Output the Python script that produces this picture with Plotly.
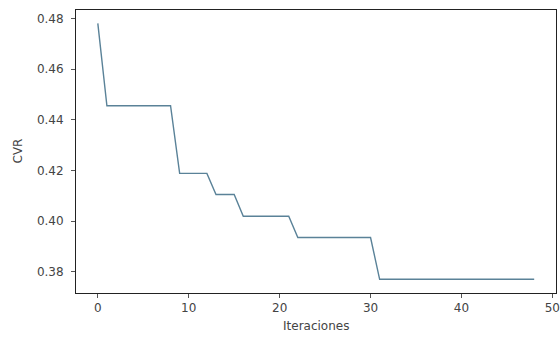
import plotly.graph_objects as go

iteraciones = list(range(0, 49))
# step values
step_starts = [0, 1, 9, 13, 16, 22, 31]
step_values = [0.4780, 0.4455, 0.4188, 0.4105, 0.4019, 0.3935, 0.3770]
cvr = []
for it in iteraciones:
    v = step_values[0]
    for s, val in zip(step_starts, step_values):
        if it >= s:
            v = val
    cvr.append(v)

x_ticks = [0, 10, 20, 30, 40, 50]
y_ticks = [0.38, 0.40, 0.42, 0.44, 0.46, 0.48]

fig = go.Figure()
fig.add_trace(go.Scatter(x=iteraciones, y=cvr, mode="lines",
                         line=dict(color="#5a8298", width=1.4)))

font = dict(family="DejaVu Sans", size=12, color="#444444")
fig.update_layout(
    width=560, height=338,
    margin=dict(l=76, r=4, t=10, b=45, autoexpand=False),
    paper_bgcolor="white", plot_bgcolor="white",
    showlegend=False, font=font,
)
fig.update_xaxes(range=[-2.4, 50.4], tickvals=x_ticks,
                 ticktext=[str(v) for v in x_ticks], automargin=False,
                 ticklabeloverflow="allow",
                 showgrid=False, zeroline=False, showline=True, mirror=True,
                 linecolor="#222", linewidth=1, ticks="outside", ticklen=4,
                 tickcolor="#555")
fig.update_yaxes(range=[0.3716, 0.4833], tickvals=y_ticks,
                 ticktext=[f"{v:.2f}" for v in y_ticks], automargin=False,
                 ticklabeloverflow="allow", ticklabelstandoff=5,
                 showgrid=False, zeroline=False, showline=True, mirror=True,
                 linecolor="#222", linewidth=1, ticks="outside", ticklen=4,
                 tickcolor="#555")
fig.add_annotation(text="Iteraciones", xref="paper", yref="paper",
                   x=0.5, y=0, yshift=-33, yanchor="middle", showarrow=False,
                   font=dict(family="DejaVu Sans", size=12, color="#444444"))
fig.add_annotation(text="CVR", xref="paper", yref="paper",
                   x=0, y=0.5, xshift=-59, xanchor="center", yanchor="middle",
                   textangle=-90, showarrow=False,
                   font=dict(family="DejaVu Sans", size=12, color="#444444"))
fig.write_html("out.html", config={"displayModeBar": False},
               post_script="document.body.style.margin='0';document.body.style.overflow='hidden';")
